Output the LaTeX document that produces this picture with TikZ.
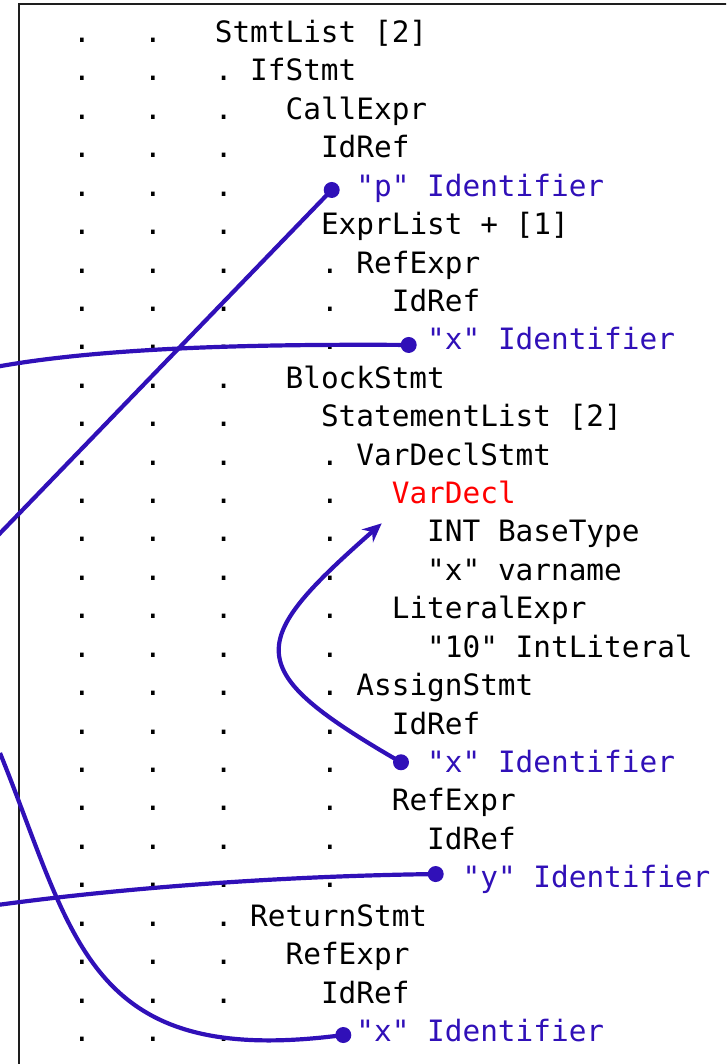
\documentclass[tikz,border=0pt]{standalone}
\usepackage{fontspec}
\usepackage{tikz}
\usetikzlibrary{arrows.meta}

\newfontfamily\treefont{DejaVu Sans Mono}
\definecolor{refblue}{RGB}{48,16,184}
\definecolor{declred}{RGB}{255,0,0}
\definecolor{boxgray}{RGB}{30,30,30}

\begin{document}
\begin{tikzpicture}[x=1pt, y=-1pt,
        every node/.style={inner sep=0pt, outer sep=0pt},
        row/.style={anchor=base west, font=\treefont\fontsize{29.4pt}{35pt}\selectfont},
        ref/.style={row, text=refblue},
        decl/.style={row, text=declred},
        ball/.style={circle, fill=refblue, minimum size=16pt},
        link/.style={draw=refblue, line width=4.2pt}]

    \useasboundingbox (0,0) rectangle (726,1064);
    \clip (0,0) rectangle (726,1064);
    \draw[boxgray, line width=2.2pt] (19,4) rectangle (760,1100);

    \begin{scope}[shift={(73.2pt,-42.5pt)}, x=17.7pt, y=-38.42pt]
        \foreach \r in {0,...,26}
            \foreach \c in {0,4}
                \node[row] (dot-\r-\c) at (\c,\r) {.};
        \foreach \r in {1,...,26}
            \node[row] (dot-\r-8) at (8,\r) {.};
        \foreach \r in {6,7,8}
            \node[row] (dot-\r-14) at (14,\r) {.};
        \foreach \r in {11,...,22}
            \node[row] (dot-\r-14) at (14,\r) {.};

        \node[row] (stmtlist)    at (8,0)  {StmtList [2]};
        \node[row] (ifstmt)      at (10,1) {IfStmt};
        \node[row] (callexpr)    at (12,2) {CallExpr};
        \node[row] (idref1)      at (14,3) {IdRef};
        \node[ref] (pid)         at (16,4) {"p" Identifier};
        \node[row] (exprlist)    at (14,5) {ExprList + [1]};
        \node[row] (refexpr1)    at (16,6) {RefExpr};
        \node[row] (idref2)      at (18,7) {IdRef};
        \node[ref] (xid1)        at (20,8) {"x" Identifier};
        \node[row] (blockstmt)   at (12,9) {BlockStmt};
        \node[row] (stmtlist2)   at (14,10) {StatementList [2]};
        \node[row] (vardeclstmt) at (16,11) {VarDeclStmt};
        \node[decl] (vardecl)    at (18,12) {VarDecl};
        \node[row] (basetype)    at (20,13) {INT BaseType};
        \node[row] (varname)     at (20,14) {"x" varname};
        \node[row] (literalexpr) at (18,15) {LiteralExpr};
        \node[row] (intliteral)  at (20,16) {"10" IntLiteral};
        \node[row] (assignstmt)  at (16,17) {AssignStmt};
        \node[row] (idref3)      at (18,18) {IdRef};
        \node[ref] (xid2)        at (20,19) {"x" Identifier};
        \node[row] (refexpr2)    at (18,20) {RefExpr};
        \node[row] (idref4)      at (20,21) {IdRef};
        \node[ref] (yid)         at (22,22) {"y" Identifier};
        \node[row] (returnstmt)  at (10,23) {ReturnStmt};
        \node[row] (refexpr3)    at (12,24) {RefExpr};
        \node[row] (idref5)      at (14,25) {IdRef};
        \node[ref] (xid3)        at (16,26) {"x" Identifier};
    \end{scope}

    \node[ball] (pball)  at ([shift={(-24.7,-6.2)}]pid.base west) {};
    \node[ball] (xball1) at ([shift={(-18.5,-4.9)}]xid1.base west) {};
    \node[ball] (xball2) at ([shift={(-26.2,-10.2)}]xid2.base west) {};
    \node[ball] (yball)  at ([shift={(-26.9,-13.7)}]yid.base west) {};
    \node[ball] (xball3) at ([shift={(-13.1,-6.4)}]xid3.base west) {};

    \coordinate (pin)   at (-20,554);
    \coordinate (xin1)  at (-10,368);
    \coordinate (xin2)  at (0,753);
    \coordinate (yin)   at (-10,906);
    \coordinate (vdtip) at ([shift={(-10.1,19.8)}]vardecl.base west);

    \draw[link] (pball.center) -- (pin);
    \draw[link] (xin1) .. controls (100,347) and (260,344) .. (xball1.center);
    \draw[link, -{Stealth[length=19pt, width=17pt]}] (xball2.center)
        .. controls (240.4,669.5) and (245.3,643.3) .. (vdtip);
    \draw[link] (yin) .. controls (120,888) and (280,876) .. (yball.center);
    \draw[link] (xin2) .. controls (75,938) and (86,1069) .. (xball3.center);
\end{tikzpicture}
\end{document}
